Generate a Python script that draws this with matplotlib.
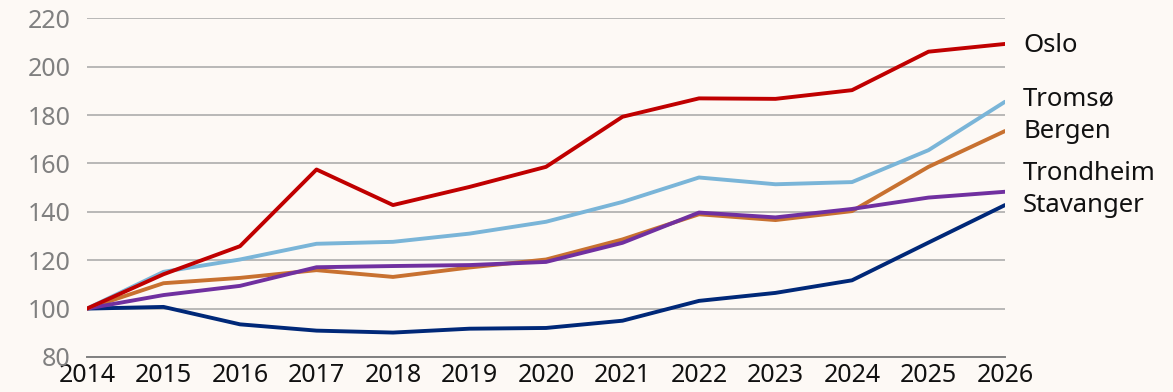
import numpy as np
import matplotlib.pyplot as plt

# Prisindeks (2014 = 100) for de store byene
years = np.arange(2014, 2027)
oslo = [100, 114.2, 125.8, 157.5, 142.8, 150.3, 158.6, 179.3, 186.9, 186.7, 190.3, 206.2, 209.4]
tromso = [100, 115.2, 120.3, 126.8, 127.6, 131.0, 135.9, 144.1, 154.2, 151.4, 152.3, 165.5, 185.5]
bergen = [100, 110.5, 112.7, 115.9, 113.1, 117.0, 120.3, 128.6, 139.0, 136.6, 140.3, 158.6, 173.4]
trondheim = [100, 105.6, 109.4, 117.1, 117.6, 118.0, 119.3, 127.2, 139.7, 137.7, 141.2, 145.9, 148.3]
stavanger = [100, 100.7, 93.5, 90.9, 90.1, 91.7, 92.0, 95.0, 103.2, 106.5, 111.7, 127.3, 142.8]

series = [
    ("Oslo", oslo, "#C00000", 45),
    ("Tromsø", tromso, "#7AB5D8", 99),
    ("Bergen", bergen, "#C87130", 131),
    ("Trondheim", trondheim, "#7030A0", 173),
    ("Stavanger", stavanger, "#002878", 205),
]

bg = "#FDF9F5"
plt.rcParams['font.family'] = ['Noto Sans', 'DejaVu Sans']

fig = plt.figure(figsize=(11.73, 3.92), dpi=100, facecolor=bg)
ax = fig.add_axes([87 / 1173, 1 - 357 / 392, (1005 - 87) / 1173, (357 - 18.3) / 392])
ax.set_facecolor(bg)

# rekkefølge slik at lilla ligger over oransje
for name in ["Stavanger", "Bergen", "Trondheim", "Tromsø", "Oslo"]:
    for n, vals, col, ly in series:
        if n == name:
            ax.plot(years, vals, color=col, lw=2.8, solid_capstyle='round', zorder=3)

# navn til høyre for linjene (posisjon i piksler fra toppen)
for n, vals, col, ly in series:
    fig.text(1023 / 1173, 1 - ly / 392, n, fontsize=18.5, color="#111111", va='center', ha='left')

ax.set_xlim(2014, 2026)
ax.set_ylim(80, 220)
ax.set_yticks(np.arange(80, 221, 20))
ax.set_xticks(years)
ax.grid(axis='y', color='#A6A6A6', lw=1.1)
ax.set_axisbelow(True)
for s in ['top', 'right', 'left']:
    ax.spines[s].set_visible(False)
ax.spines['bottom'].set_color('#808080')
ax.spines['bottom'].set_linewidth(1.4)
ax.tick_params(axis='both', length=0)
ax.tick_params(axis='y', labelsize=18, labelcolor='#808080', pad=12)
ax.tick_params(axis='x', labelsize=18, labelcolor='#111111', pad=4.5)

fig.savefig("out.png", dpi=100, facecolor=bg)
